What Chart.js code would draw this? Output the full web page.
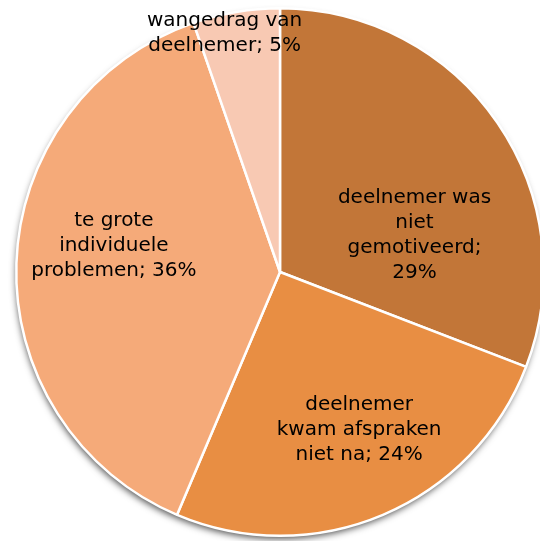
<!DOCTYPE html>
<html>
<head>
<meta charset="utf-8">
<script src="https://cdn.jsdelivr.net/npm/chart.js@4"></script>
<style>
  html, body { margin: 0; padding: 0; background: #fff; overflow: hidden; }
  #wrap { width: 540px; height: 541px; overflow: hidden; position: relative; }
  canvas { display: block; }
</style>
</head>
<body>
<div id="wrap"><canvas id="c" width="560" height="541"></canvas></div>
<script>
const categories = [
  ["deelnemer was", "niet", "gemotiveerd;", "29%"],
  ["deelnemer", "kwam afspraken", "niet na; 24%"],
  ["te grote", "individuele", "problemen; 36%"],
  ["wangedrag van", "deelnemer; 5%"]
];
const values = [29, 24, 36, 5];
const colors = ["#C27638", "#E88E43", "#F5AA79", "#F8C9B3"];
// label centre offsets, as fractions of the pie radius from its centre
const labelOffsets = [[0.51, -0.14], [0.30, 0.60], [-0.63, -0.10], [-0.21, -0.905]];

const shadowPlugin = {
  id: 'shadow',
  beforeDatasetsDraw(chart) {
    const arc = chart.getDatasetMeta(0).data[0];
    if (!arc) return;
    const ctx = chart.ctx;
    ctx.save();
    ctx.shadowColor = 'rgba(0,0,0,0.7)';
    ctx.shadowBlur = 7;
    ctx.shadowOffsetX = -1;
    ctx.shadowOffsetY = 4;
    ctx.beginPath();
    ctx.arc(arc.x, arc.y, arc.outerRadius - 1, 0, Math.PI * 2);
    ctx.fillStyle = '#ffffff';
    ctx.fill();
    ctx.restore();
  }
};

const labelPlugin = {
  id: 'sliceLabels',
  afterDatasetsDraw(chart) {
    const meta = chart.getDatasetMeta(0);
    const ctx = chart.ctx;
    ctx.save();
    ctx.font = '20px "DejaVu Sans", sans-serif';
    ctx.fillStyle = '#000';
    ctx.textAlign = 'center';
    ctx.textBaseline = 'middle';
    const lh = 25;
    meta.data.forEach((arc, i) => {
      const lines = categories[i];
      const r = arc.outerRadius;
      const cx = arc.x + labelOffsets[i][0] * r;
      const cy = arc.y + labelOffsets[i][1] * r;
      const y0 = cy - (lines.length - 1) * lh / 2;
      lines.forEach((t, k) => ctx.fillText(t, cx, y0 + k * lh));
    });
    ctx.restore();
  }
};

new Chart(document.getElementById('c'), {
  type: 'pie',
  data: {
    labels: categories.map(l => l.join(' ')),
    datasets: [{
      data: values,
      backgroundColor: colors,
      borderColor: '#ffffff',
      borderWidth: 2.5
    }]
  },
  options: {
    responsive: false,
    animation: false,
    layout: { padding: { left: 15, right: 15, top: 7, bottom: 4 } },
    plugins: { legend: { display: false }, tooltip: { enabled: false } }
  },
  plugins: [shadowPlugin, labelPlugin]
});
</script>
</body>
</html>
